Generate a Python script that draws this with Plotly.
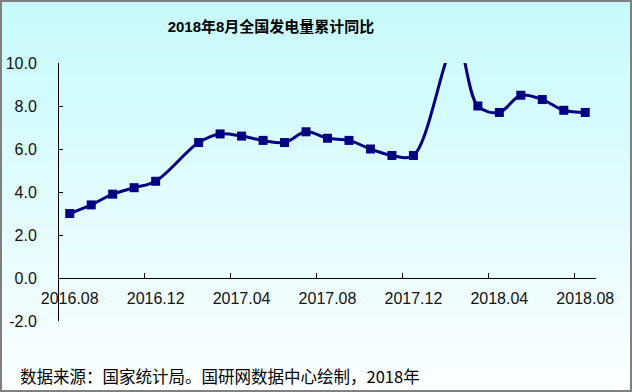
import plotly.graph_objects as go

# ---- data ----
months = ["2016.08", "2016.09", "2016.10", "2016.11", "2016.12",
          "2017.01", "2017.02", "2017.03", "2017.04", "2017.05", "2017.06",
          "2017.07", "2017.08", "2017.09", "2017.10", "2017.11", "2017.12",
          "2018.01", "2018.02", "2018.03", "2018.04", "2018.05", "2018.06",
          "2018.07", "2018.08"]
growth = [3.0, 3.4, 3.9, 4.2, 4.5,
          None, 6.3, 6.7, 6.6, 6.4, 6.3,
          6.8, 6.5, 6.4, 6.0, 5.7, 5.7,
          None, 11.0, 8.0, 7.7, 8.5, 8.3,
          7.8, 7.7]
y_ticks = [-2, 0, 2, 4, 6, 8, 10]

title_text = "2018年8月全国发电量累计同比"
source_text = "数据来源：国家统计局。国研网数据中心绘制，2018年"

# ---- layout geometry ----
W, H = 632, 392
L, R, T, B = 59, 36, 63, 71
PW, PH = W - L - R, H - T - B

def px_x(px):
    return (px - L) / PW

def px_y(py):
    return (H - B - py) / PH

fig = go.Figure()

fig.add_trace(go.Scatter(
    x=months, y=growth, mode="lines+markers",
    connectgaps=True,
    line=dict(color="#000080", width=3, shape="spline", smoothing=1.0),
    marker=dict(symbol="square", size=9, color="#000080"),
    showlegend=False, hoverinfo="x+y",
))

# gradient background bands
shapes = []
top = (198, 250, 251)
bot = (252, 254, 254)
band = 4
n = H // band + 1
for i in range(n):
    y0 = i * band
    y1 = min(H, y0 + band)
    t = (y0 + band / 2) / H
    c = tuple(round(top[k] + (bot[k] - top[k]) * t) for k in range(3))
    shapes.append(dict(type="rect", xref="paper", yref="paper", layer="below",
                       x0=px_x(0), x1=px_x(W), y0=px_y(y1), y1=px_y(y0),
                       line=dict(width=0), fillcolor="rgb(%d,%d,%d)" % c))
# outer border
shapes.append(dict(type="rect", xref="paper", yref="paper", layer="above",
                   x0=px_x(1), x1=px_x(W - 1), y0=px_y(H - 1), y1=px_y(1),
                   line=dict(width=2, color="#808080"), fillcolor="rgba(0,0,0,0)"))

fig.update_layout(
    width=W, height=H,
    margin=dict(l=L, r=R, t=T, b=B, pad=0, autoexpand=False),
    paper_bgcolor="white", plot_bgcolor="rgba(0,0,0,0)",
    shapes=shapes,
    title=dict(text="<b>" + title_text + "</b>", xref="container", yref="container",
               x=271 / W, y=1 - 27 / H, xanchor="center", yanchor="middle",
               automargin=False,
               font=dict(family="Liberation Sans, Arial, Noto Sans CJK SC", size=15, color="#000000")),
    xaxis=dict(type="category", categoryorder="array", categoryarray=months,
               range=[-0.5, len(months) - 0.5], automargin=False,
               tickmode="linear", tick0=0, dtick=4, tickson="boundaries",
               tickangle=0,
               ticks="inside", ticklen=5, tickcolor="#000000",
               showline=True, linecolor="#000000", linewidth=1,
               showgrid=False, zeroline=False,
               anchor="free", position=2 / 12,
               ticklabelstandoff=6,
               tickfont=dict(family="Liberation Sans, Arial", size=16, color="#111111")),
    yaxis=dict(range=[-2, 10], tickmode="array", tickvals=y_ticks,
               ticktext=["%.1f" % v for v in y_ticks], automargin=False,
               ticks="inside", ticklen=4, tickcolor="#000000",
               showline=True, linecolor="#000000", linewidth=1,
               showgrid=False, zeroline=False, domain=[0, 1],
               ticklabelstandoff=18,
               tickfont=dict(family="Liberation Sans, Arial", size=16, color="#111111")),
    annotations=[dict(text=source_text, xref="paper", yref="paper",
                      x=px_x(18), y=px_y(376), xanchor="left", yanchor="middle",
                      showarrow=False,
                      font=dict(family="Noto Sans CJK SC", size=16.5, color="#000000"))],
)

fig.write_html("out.html", config={"displayModeBar": False},
               post_script="document.body.style.margin='0px';document.body.style.overflow='hidden';")
